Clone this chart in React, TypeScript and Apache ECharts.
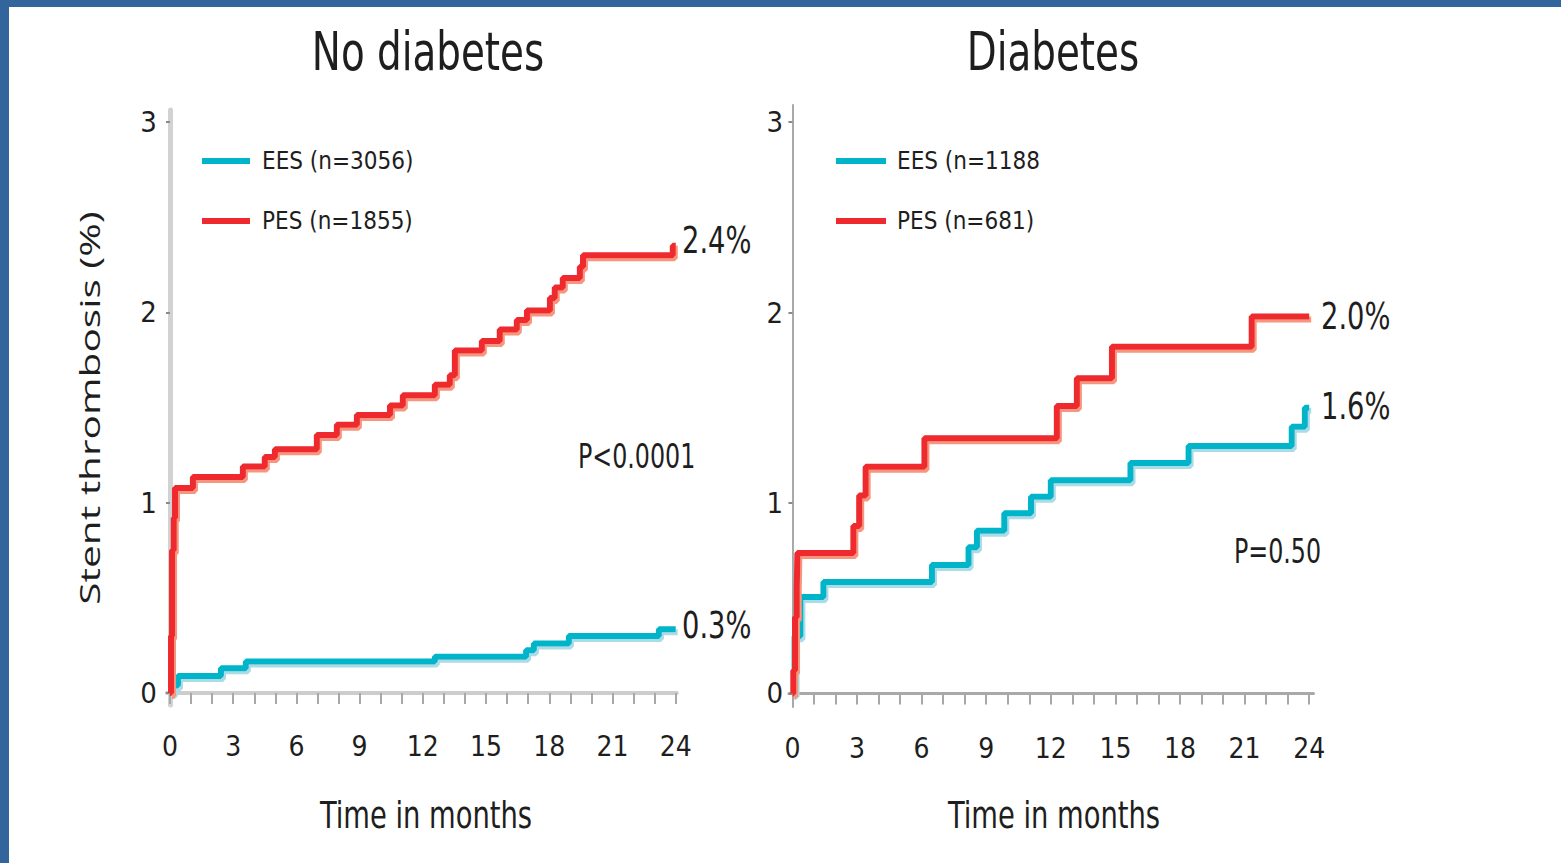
import React, { useEffect, useRef } from "react";
import * as echarts from "echarts";

// ---- Data (months, cumulative stent thrombosis %) ----
const monthTicks = [0,1,2,3,4,5,6,7,8,9,10,11,12,13,14,15,16,17,18,19,20,21,22,23,24];
const monthLabels = [0, 3, 6, 9, 12, 15, 18, 21, 24];
const yTicks = [0, 1, 2, 3];

const titleLeft = "No diabetes";
const titleRight = "Diabetes";
const xName = "Time in months";
const yName = "Stent thrombosis (%)";

const nameEesNoDm = "EES (n=3056)";
const namePesNoDm = "PES (n=1855)";
const nameEesDm = "EES (n=1188";
const namePesDm = "PES (n=681)";

const eesNoDm: [number, number][] = [
  [0, 0], [0.14, 0.04], [0.38, 0.09], [2.42, 0.13], [3.6, 0.165], [12.57, 0.19],
  [16.9, 0.225], [17.27, 0.26], [18.93, 0.3], [23.2, 0.335], [24, 0.335],
];
const pesNoDm: [number, number][] = [
  [0, 0], [0.05, 0.3], [0.1, 0.75], [0.18, 0.92], [0.24, 1.077], [1.09, 1.135],
  [3.46, 1.19], [4.5, 1.24], [4.98, 1.28], [6.97, 1.355], [7.92, 1.41], [8.87, 1.46],
  [10.44, 1.51], [11.05, 1.565], [12.57, 1.62], [13.28, 1.67], [13.52, 1.8],
  [14.8, 1.85], [15.65, 1.91], [16.46, 1.96], [16.94, 2.01], [18.03, 2.075],
  [18.26, 2.13], [18.64, 2.18], [19.45, 2.24], [19.6, 2.3], [23.86, 2.35], [24, 2.35],
];
const eesDm: [number, number][] = [
  [0, 0], [0.1, 0.3], [0.37, 0.506], [1.44, 0.585], [6.48, 0.674], [8.18, 0.768],
  [8.57, 0.855], [9.84, 0.946], [11.08, 1.033], [12.0, 1.12], [15.7, 1.21],
  [18.4, 1.3], [23.19, 1.4], [23.8, 1.5], [24, 1.5],
];
const pesDm: [number, number][] = [
  [0, 0], [0.04, 0.12], [0.12, 0.4], [0.2, 0.55], [0.23, 0.737], [2.83, 0.88],
  [3.1, 1.04], [3.4, 1.19], [6.13, 1.34], [12.28, 1.51], [13.21, 1.655],
  [14.84, 1.82], [21.33, 1.98], [24, 1.98],
];

const endLabels = ["2.4%", "0.3%", "2.0%", "1.6%"];
const pLeft = "P<0.0001";
const pRight = "P=0.50";

const NARROW = "'Liberation Sans Narrow', 'DejaVu Sans Condensed', 'Arial Narrow', sans-serif";
const TXT = "#1e1e1e";
const RED = "#ee2a2e";
const RED_SH = "#f7957e";
const CYAN = "#00b5c9";
const CYAN_SH = "#a9dce6";
const SQUEEZE = 0.8;

function lineSeries(name: string, data: [number, number][], idx: number, color: string, shadow: string) {
  return {
    name,
    type: "line",
    step: "end",
    xAxisIndex: idx,
    yAxisIndex: idx,
    data,
    symbol: "none",
    showSymbol: false,
    silent: true,
    itemStyle: { color },
    lineStyle: {
      color,
      width: 6,
      shadowColor: shadow,
      shadowBlur: 0,
      shadowOffsetX: 2,
      shadowOffsetY: 3,
    },
  };
}

function xAxisCfg(idx: number, min: number, max: number, lineColor: string, lineWidth: number) {
  return {
    type: "value",
    gridIndex: idx,
    min,
    max,
    splitLine: { show: false },
    axisLine: { show: true, lineStyle: { color: lineColor, width: lineWidth } },
    axisTick: {
      show: true,
      customValues: monthTicks,
      length: 11,
      lineStyle: { color: "#a8a8a8", width: 2 },
    },
    axisLabel: {
      customValues: monthLabels,
      fontSize: 28,
      fontFamily: NARROW,
      color: TXT,
      margin: 27,
    },
  };
}

function yAxisCfg(idx: number, min: number, max: number, lineColor: string, lineWidth: number, margin: number) {
  return {
    type: "value",
    gridIndex: idx,
    min,
    max,
    splitLine: { show: false },
    axisLine: { show: true, lineStyle: { color: lineColor, width: lineWidth } },
    axisTick: {
      show: true,
      customValues: yTicks,
      length: 4,
      lineStyle: { color: "#8a8a8a", width: 2 },
    },
    axisLabel: {
      customValues: yTicks,
      fontSize: 29,
      fontFamily: NARROW,
      color: TXT,
      margin,
    },
  };
}

function txt(text: string, x: number, y: number, size: number, align = "left") {
  return {
    type: "text",
    x,
    y,
    scaleX: SQUEEZE,
    silent: true,
    style: {
      text,
      fontSize: size,
      fontFamily: NARROW,
      fill: TXT,
      align,
      verticalAlign: "middle",
      textAlign: align,
      textVerticalAlign: "middle",
    },
  };
}

export default function App() {
  const ref = useRef<HTMLDivElement>(null);

  useEffect(() => {
    if (!ref.current) return;
    const chart = echarts.init(ref.current, undefined, { renderer: "svg" });
    const legendBase = {
      orient: "vertical",
      top: 147,
      padding: 0,
      icon: "rect",
      itemHeight: 6,
      itemGap: 32,
      selectedMode: false,
    };
    chart.setOption({
      animation: false,
      backgroundColor: "#ffffff",
      grid: [
        { left: 166.8, top: 110, width: 510, height: 595, containLabel: false },
        { left: 789, top: 105, width: 524.5, height: 602, containLabel: false },
      ],
      xAxis: [
        xAxisCfg(0, -0.15, 24.05, "#cdcdcd", 4),
        xAxisCfg(1, -0.16, 24.2, "#a9a9a9", 3),
      ],
      yAxis: [
        yAxisCfg(0, -0.063, 3.063, "#d2d2d2", 5, 10),
        yAxisCfg(1, -0.071, 3.09, "#a9a9a9", 2, 6),
      ],
      legend: [
        {
          ...legendBase,
          data: [nameEesNoDm, namePesNoDm],
          left: 202,
          itemWidth: 48,
          textStyle: { fontSize: 24, fontFamily: NARROW, color: TXT, lineHeight: 28, padding: [0, 0, 0, 7] },
        },
        {
          ...legendBase,
          data: [nameEesDm, namePesDm],
          left: 836,
          itemWidth: 50,
          textStyle: { fontSize: 24, fontFamily: NARROW, color: TXT, lineHeight: 28, padding: [0, 0, 0, 6] },
        },
      ],
      series: [
        lineSeries(nameEesNoDm, eesNoDm, 0, CYAN, CYAN_SH),
        lineSeries(namePesNoDm, pesNoDm, 0, RED, RED_SH),
        lineSeries(nameEesDm, eesDm, 1, CYAN, CYAN_SH),
        lineSeries(namePesDm, pesDm, 1, RED, RED_SH),
      ],
      graphic: [
        { type: "rect", silent: true, shape: { x: 0, y: 0, width: 1561, height: 7 }, style: { fill: "#31659b" } },
        { type: "rect", silent: true, shape: { x: 0, y: 0, width: 9, height: 863 }, style: { fill: "#31659b" } },
        txt(titleLeft, 428, 52, 54, "center"),
        txt(titleRight, 1053, 52, 54, "center"),
        txt(xName, 426, 815, 38, "center"),
        txt(xName, 1054, 815, 38, "center"),
        txt(endLabels[0], 682, 240, 38),
        txt(endLabels[1], 682, 625, 38),
        txt(endLabels[2], 1321, 316, 38),
        txt(endLabels[3], 1321, 406, 38),
        txt(pLeft, 578, 456, 33),
        txt(pRight, 1234, 551, 33),
        {
          type: "text",
          x: 89,
          y: 408,
          rotation: Math.PI / 2,
          scaleX: 1.45,
          silent: true,
          style: {
            text: yName,
            fontSize: 28,
            fontFamily: "'Open Sans', 'Noto Sans', sans-serif",
            fill: TXT,
            align: "center",
            verticalAlign: "middle",
            textAlign: "center",
            textVerticalAlign: "middle",
          },
        },
      ],
    });
    return () => chart.dispose();
  }, []);

  return (
    <div
      ref={ref}
      style={{ position: "absolute", left: 0, top: 0, width: 1561, height: 863, background: "#fff" }}
    />
  );
}
